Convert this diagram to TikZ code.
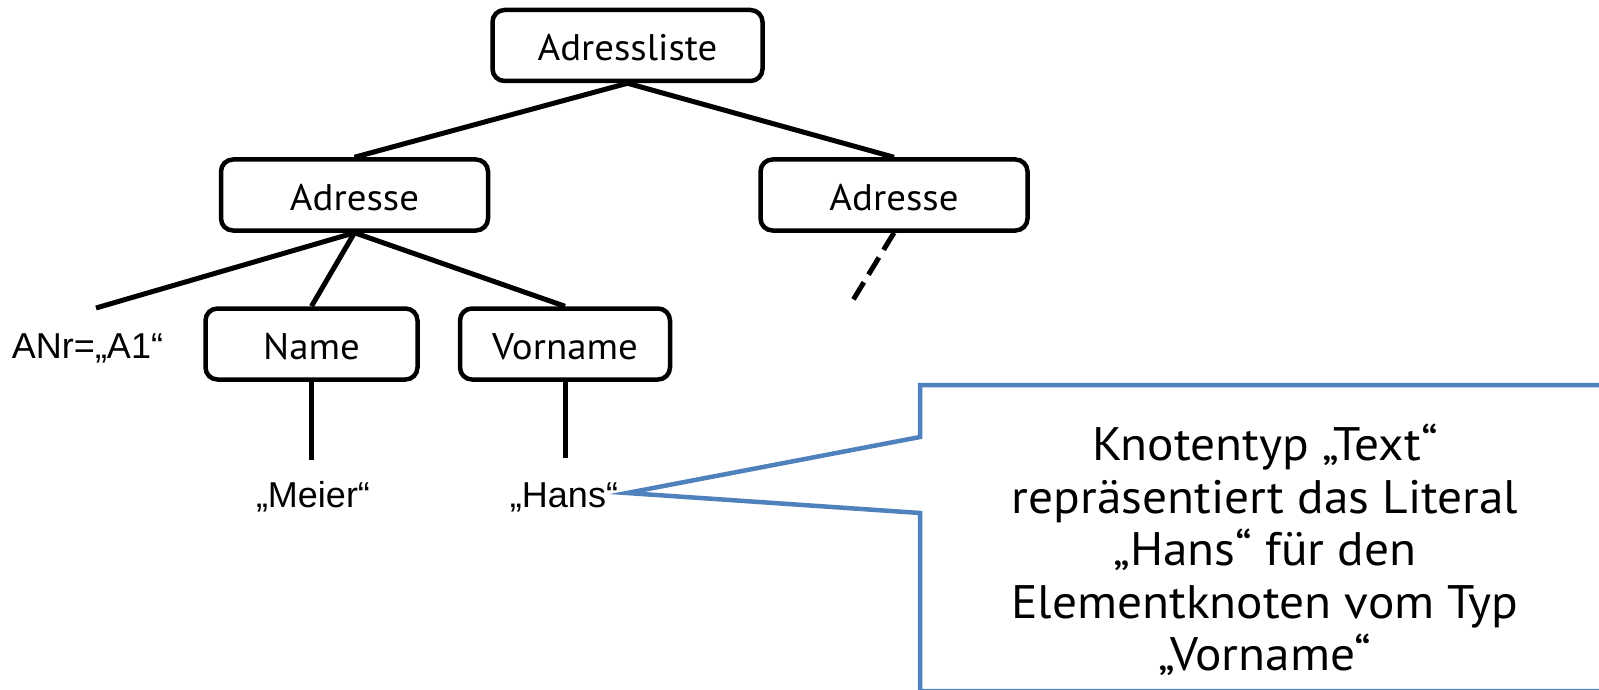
\documentclass[tikz,border=0pt]{standalone}
\usepackage{fontspec}
\setmainfont{Liberation Sans}
\newfontfamily\boxfont[FakeStretch=1.05]{PT Sans}
\begin{document}
\begin{tikzpicture}[x=1pt,y=-1pt,
  elem/.style={draw=black,line width=4.5pt,rounded corners=12pt,
    inner sep=0pt,minimum height=71pt,text height=31pt,text depth=0pt,
    font=\boxfont\fontsize{37}{40}\selectfont},
  literal/.style={inner sep=0pt,font=\fontsize{36}{40}\selectfont},
  edge/.style={draw=black,line width=5pt},
  calloutline/.style={draw=calloutblue,line width=4.5pt,line join=miter},
]
\definecolor{calloutblue}{RGB}{79,129,189}
\useasboundingbox (0,0) rectangle (1599,690);

% element nodes
\node[elem,minimum width=270pt] (root) at (627.5,45.5) {Adressliste};
\node[elem,minimum width=267pt] (adrL) at (354.5,195) {Adresse};
\node[elem,minimum width=267pt] (adrR) at (894,195) {Adresse};
\node[elem,minimum width=212pt] (name) at (311.5,344) {Name};
\node[elem,minimum width=210pt] (vorname) at (565,344) {Vorname};

% attribute and text nodes
\node[literal] (anr) at (87.5,348) {ANr=„A1“};
\node[literal] (meier) at (313,497) {„Meier“};
\node[literal] (hans) at (564,497) {„Hans“};

% free ends of connectors
\coordinate (anrEnd) at (96,308);
\coordinate (meierEnd) at (311.5,460);
\coordinate (hansEnd) at (565,458);
\coordinate (moreEnd) at (850,305);
\coordinate (tip) at (627,493);

% tree edges
\draw[edge] (root.south) -- (adrL.north);
\draw[edge] (root.south) -- (adrR.north);
\draw[edge] (adrL.south) -- (anrEnd);
\draw[edge] (adrL.south) -- (name.north);
\draw[edge] (adrL.south) -- (vorname.north);
\draw[edge] (name.south) -- (meierEnd);
\draw[edge] (vorname.south) -- (hansEnd);
\draw[edge,dash pattern=on 20pt off 9pt] (adrR.south) -- (moreEnd);

% callout box pointing at the text node
\draw[calloutline,fill=white] (1610,385) -- (920,385) -- (920,437) -- (tip)
  -- (920,513) -- (920,691) -- (1610,691);
\node[align=center,inner sep=0pt,font=\boxfont\fontsize{47}{52.5}\selectfont]
  (note) at (1265,550) {Knotentyp „Text“\\repräsentiert das Literal\\„Hans“ für den\\Elementknoten vom Typ\\„Vorname“};
\end{tikzpicture}
\end{document}
